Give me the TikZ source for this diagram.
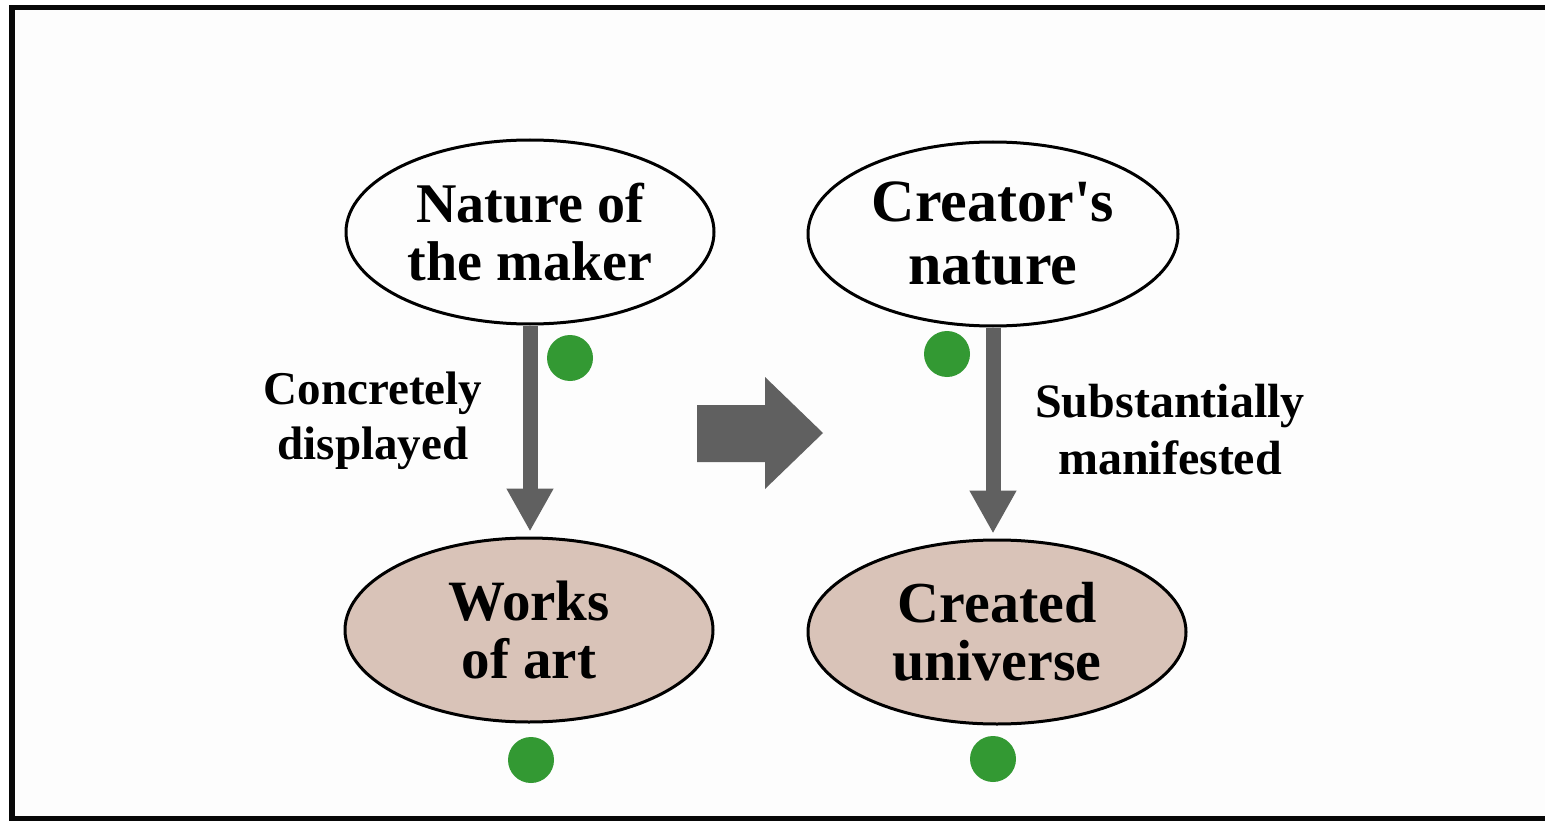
\documentclass[tikz,border=0pt]{standalone}
\usepackage{fontspec}
\setmainfont{Liberation Serif}[Ligatures=TeXOff]
\usetikzlibrary{arrows.meta,shapes.geometric}

\definecolor{framegray}{RGB}{8,8,8}
\definecolor{paper}{RGB}{253,253,253}
\definecolor{arrowgray}{RGB}{96,96,96}
\definecolor{beige}{RGB}{217,195,184}
\definecolor{dotgreen}{RGB}{51,153,51}

\tikzset{
  concept/.style={ellipse, draw=black, line width=3pt, inner sep=0pt,
    minimum width=368pt, minimum height=184pt, align=center,
    font=\bfseries\fontsize{56}{58}\selectfont},
  outcome/.style={concept, fill=beige, font=\bfseries\fontsize{57}{58}\selectfont},
  edgelabel/.style={align=center, inner sep=0pt,
    font=\bfseries\fontsize{47}{55}\selectfont},
  flow/.style={draw=arrowgray, line width=15pt,
    -{Triangle[width=44pt,length=43pt]}, shorten >=5pt},
  marker/.style={circle, fill=dotgreen, inner sep=0pt, minimum size=46pt},
}

\begin{document}
\begin{tikzpicture}[x=1pt, y=-1pt]
  \useasboundingbox (0,0) rectangle (1545,821);
  \fill[white] (0,0) rectangle (1545,821);
  \fill[paper] (12,7.5) rectangle (1545,818.5);
  % frame: top, left and bottom edges
  \draw[framegray, line width=5.5pt] (1545,7.5) -- (12,7.5) -- (12,818.5) -- (1545,818.5);

  % ellipses
  \node[concept] (maker) at (530,232) {Nature of\\the maker};
  \node[concept, minimum width=370pt, font=\bfseries\fontsize{60}{63}\selectfont]
    (creator) at (993,234) {Creator's\\nature};
  \node[outcome] (works) at (529,630) {Works\\of art};
  \node[outcome, minimum width=378pt, font=\bfseries\fontsize{58}{58}\selectfont]
    (universe) at (997,632) {Created\\universe};

  % vertical connectors
  \draw[flow] (maker.south) -- (maker.south |- works.north);
  \draw[flow] (creator.south) -- (creator.south |- universe.north);

  % connector labels
  \node[edgelabel] (lblleft) at (373,421) {Concretely\\displayed};
  \node[edgelabel, font=\bfseries\fontsize{48}{57}\selectfont]
    (lblright) at (1170,430) {Substantially\\manifested};

  % block arrow between the two columns
  \fill[arrowgray] (697,405) -- (765,405) -- (765,377) -- (823,433)
    -- (765,489) -- (765,462) -- (697,462) -- cycle;

  % green markers
  \node[marker] (m1) at (570,358) {};
  \node[marker] (m2) at (531,760) {};
  \node[marker] (m3) at (947,354) {};
  \node[marker] (m4) at (993,759) {};
\end{tikzpicture}
\end{document}
